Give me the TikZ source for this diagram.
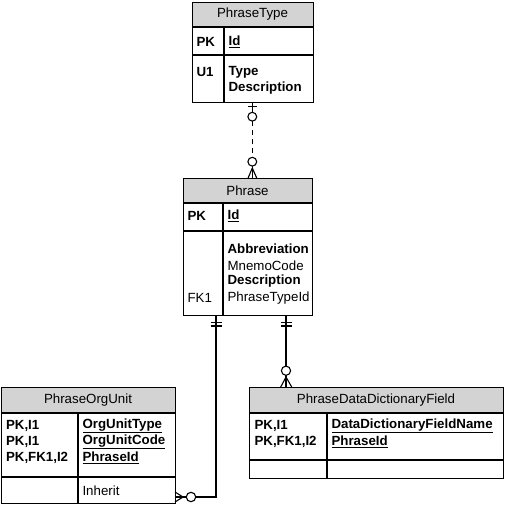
\documentclass[tikz,border=0pt]{standalone}
\usepackage{fontspec}
\setmainfont{Liberation Sans}
\usetikzlibrary{calc}
\definecolor{hdr}{RGB}{211,211,211}
\begin{document}
\begin{tikzpicture}[x=1pt,y=-1pt,line width=1.1pt]
\tikzset{
  ent/.style={draw=black,line width=1.1pt,inner sep=0pt,anchor=north west},
  ttl/.style={font=\fontsize{13.3}{15}\selectfont,inner sep=0pt},
  fld/.style={font=\fontsize{13.3}{16}\selectfont,inner sep=0pt,anchor=west},
  fldb/.style={font=\fontsize{13.3}{16}\selectfont\bfseries,inner sep=0pt,anchor=west},
  mk/.style={draw=black,fill=white,line width=1.1pt},
  dsh/.style={dash pattern=on 5pt off 4pt},
}
\useasboundingbox (0,0) rectangle (505,505);

% ---------- PhraseType ----------
\fill[hdr] (192,2) rectangle (313,27);
\node[ent,minimum width=121pt,minimum height=100pt] (pt) at (192,2) {};
\draw (192,27) -- (313,27) (192,55) -- (313,55) (224,27) -- (224,102);
\node[ttl] (ptT) at (252.5,14.5) {PhraseType};
\node[fldb] (ptk1) at (196,42) {PK};
\node[fldb] (ptf1) at (228,42) {\underline{Id}};
\node[fldb] (ptk2) at (196,72) {U1};
\node[fldb] (ptf2) at (228,72) {Type};
\node[fldb] (ptf3) at (228,88.5) {Description};

% ---------- Phrase ----------
\fill[hdr] (183,178) rectangle (312,203);
\node[ent,minimum width=129pt,minimum height=137pt] (ph) at (183,178) {};
\draw (183,203) -- (312,203) (183,231) -- (312,231) (223,203) -- (223,315);
\node[ttl] (phT) at (247.5,190.5) {Phrase};
\node[fldb] (phk1) at (187,216) {PK};
\node[fldb] (phf1) at (227,216) {\underline{Id}};
\node[fldb] (phf2) at (227,249) {Abbreviation};
\node[fld] (phf3) at (227,265.5) {MnemoCode};
\node[fldb] (phf4) at (227,281.5) {Description};
\node[fld] (phk5) at (187,298) {FK1};
\node[fld] (phf5) at (227,298) {PhraseTypeId};

% ---------- PhraseOrgUnit ----------
\fill[hdr] (1,387) rectangle (175,413);
\node[ent,minimum width=174pt,minimum height=116pt] (pou) at (1,387) {};
\draw (1,413) -- (175,413) (1,477) -- (175,477) (78,413) -- (78,503);
\node[ttl] (pouT) at (88,400) {PhraseOrgUnit};
\node[fldb] (pouk1) at (5.5,426) {PK,I1};
\node[fldb] (pouf1) at (82,426) {\underline{OrgUnitType}};
\node[fldb] (pouk2) at (5.5,442) {PK,I1};
\node[fldb] (pouf2) at (82,442) {\underline{OrgUnitCode}};
\node[fldb] (pouk3) at (5.5,458) {PK,FK1,I2};
\node[fldb] (pouf3) at (82,458) {\underline{PhraseId}};
\node[fld] (pouf4) at (82,490.5) {Inherit};

% ---------- PhraseDataDictionaryField ----------
\fill[hdr] (249,387) rectangle (503,413);
\node[ent,minimum width=254pt,minimum height=91pt] (pdd) at (249,387) {};
\draw (249,413) -- (503,413) (249,460) -- (503,460) (327,413) -- (327,478);
\node[ttl] (pddT) at (376,400) {PhraseDataDictionaryField};
\node[fldb] (pddk1) at (254,426) {PK,I1};
\node[fldb] (pddf1) at (331,426) {\underline{DataDictionaryFieldName}};
\node[fldb] (pddk2) at (254,442) {PK,FK1,I2};
\node[fldb] (pddf2) at (331,442) {\underline{PhraseId}};

% ---------- connector coordinates ----------
\coordinate (r1a) at (252.3,102);
\coordinate (r1b) at (252.3,178);
\coordinate (r2a) at (216,315);
\coordinate (r2b) at (175,497);
\coordinate (r3a) at (286,315);
\coordinate (r3b) at (286,387);

% PhraseType -> Phrase (dashed, zero-or-one to zero-or-many)
\draw[dsh] (pt.south -| r1a) -- (ph.north -| r1b);
\draw (r1a) -- ++(0,10) (r1b) -- ++(0,-12);
\draw ($(r1a)+(-4.2,4.7)$) -- ++(8.4,0);
\draw[mk] ($(r1a)+(0,14.7)$) circle (4.4);
\draw[mk] ($(r1b)+(0,-16.3)$) circle (4.4);
\draw ($(r1b)+(0,-10)$) -- ($(r1b)+(-4.2,0)$) ($(r1b)+(0,-10)$) -- ($(r1b)+(4.4,0)$);

% Phrase -> PhraseOrgUnit (one-and-only-one to zero-or-many)
\draw (ph.south -| r2a) |- (pou.east |- r2b);
\draw ($(r2a)+(-5.5,7.3)$) -- ++(11,0) ($(r2a)+(-5.5,11)$) -- ++(11,0);
\draw[mk] ($(r2b)+(16,0)$) circle (4.7);
\draw ($(r2b)+(8,0)$) -- ($(r2b)+(0,-5)$) ($(r2b)+(8,0)$) -- ($(r2b)+(0,5)$);

% Phrase -> PhraseDataDictionaryField (one-and-only-one to zero-or-many)
\draw (ph.south -| r3a) -- (pdd.north -| r3b);
\draw ($(r3a)+(-5.5,7.3)$) -- ++(11,0) ($(r3a)+(-5.5,11)$) -- ++(11,0);
\draw[mk] ($(r3b)+(0,-16.3)$) circle (4.6);
\draw ($(r3b)+(0,-10)$) -- ($(r3b)+(-5.3,0)$) ($(r3b)+(0,-10)$) -- ($(r3b)+(5.7,0)$);
\end{tikzpicture}
\end{document}
